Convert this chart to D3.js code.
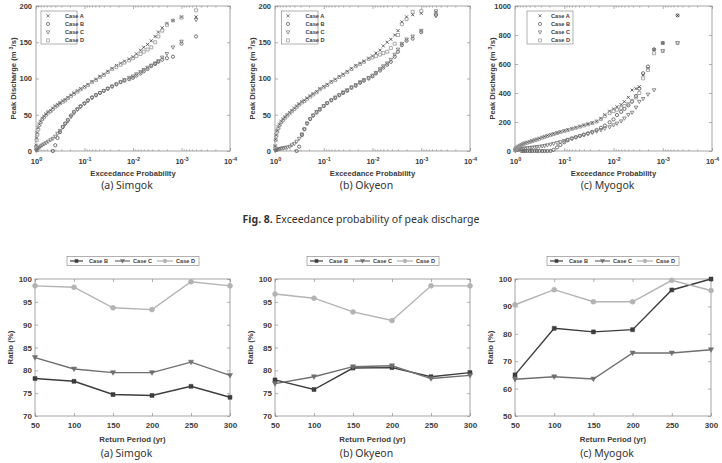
<!DOCTYPE html>
<html><head><meta charset="utf-8">
<script src="https://cdn.jsdelivr.net/npm/d3@7"></script>
<style>body{margin:0;background:#fff} svg{display:block}</style>
</head><body><svg id="c" width="722" height="463"></svg>
<script>
// ---------- DATA ----------
// exceedance probabilities (shared plotting positions)
const P = [0.99,0.97,0.94,0.9,0.85,0.8,0.74,0.68,0.62,0.56,0.5,0.45,0.4,0.36,0.32,0.28,0.25,0.22,0.19,0.165,0.14,0.12,0.1,0.085,0.07,0.058,0.048,0.04,0.033,0.027,0.022,0.018,0.015,0.012,0.01,0.0085,0.007,0.006,0.005,0.0042,0.0035,0.003,0.0025,0.002,0.0015,0.001,0.0005];
const caseNames = ["Case A","Case B","Case C","Case D"];
// Simgok peak discharge (m3/s); null = no plotted point
const simA = [8,18,25,32,37,41,45,48,51,54,56,59,62,64,66,69,71,74,77,80,83,86,89,92,96,99,103,106,110,114,118,121,124,127,130,134,139,143,147,152,158,164,170,176,180,185,185];
const simB = [null,null,null,null,null,null,null,null,null,null,null,0,8,18,26,33,38,43,49,54,58,62,66,70,74,77,80,83,86,89,92,95,97,99,101,104,107,110,113,117,120,123,126,128,130,148,158];
const simC = [0.5,1.5,2.5,4,5,6.5,8,9.5,11,13,15,17,20,24,28,33,37,41,47,52,57,61,65,69,73,77,80,83,86,89,92,95,98,101,103,106,109,112,115,118,121,124,129,134,143,151,181];
const simD = [6,15,23,30,36,40,44,47,50,53,55,58,61,63,66,68,70,73,76,79,82,85,88,91,95,98,102,105,109,113,116,119,122,125,128,131,134,137,140,143,150,158,166,174,180,184,194];
// Okyeon
const okyA = [7,16,22,28,33,37,41,44,47,50,53,56,59,62,65,68,70,73,76,79,82,86,89,92,96,99,103,106,110,114,118,121,124,128,131,135,139,145,150,154,160,166,178,185,188,190,192];
const okyB = [null,null,null,null,null,null,null,null,null,null,null,null,null,0,6,22,30,38,44,49,53,57,62,66,70,73,77,80,83,87,90,94,97,100,103,107,111,115,119,123,130,137,146,152,155,164,188];
const okyC = [0.5,1,1.5,2,2.5,3,3.5,4,4.5,5,6,8,10,13,17,23,30,38,44,49,54,58,62,66,70,74,77,81,84,88,91,95,98,101,104,108,113,117,121,126,133,140,148,154,158,166,186];
const okyD = [6,15,21,27,32,36,40,43,46,49,52,55,58,61,64,67,69,72,75,78,81,85,88,91,95,98,102,105,109,113,117,120,123,127,129,131,133,135,137,142,148,160,175,182,192,193,193];
// Myogok
const myoA = [8,15,20,26,32,38,44,50,55,60,65,70,76,81,87,94,100,106,113,119,126,133,140,147,155,162,170,178,186,195,205,225,250,275,290,305,320,340,370,420,430,443,525,570,700,745,935];
const myoB = [null,null,null,null,null,null,0,0,0,0,0,0,0,0,0,0,0,0,0,8,25,42,60,74,86,95,104,113,122,132,145,160,175,198,218,248,270,290,315,340,380,430,536,582,701,745,935];
const myoC = [2,4,6,8,10,12,14,16,18,20,22,24,26,28,30,33,36,40,45,50,56,62,70,78,86,94,102,110,118,126,135,145,155,165,178,190,205,225,250,265,300,340,360,390,420,690,745];
const myoD = [6,13,18,24,30,36,42,48,53,58,63,68,74,79,85,92,98,104,111,117,124,131,138,145,153,160,168,176,184,193,203,220,240,262,275,285,295,310,325,345,370,400,501,559,674,690,745];
const xLogTicks = [1,0.1,0.01,0.001,0.0001];
const simTicks = [0,50,100,150,200];
const myoTicks = [0,200,400,600,800,1000];

// Ratio of design discharge (%)
const returnPeriods = [50,100,150,200,250,300];
const ratioCases = ["Case B","Case C","Case D"];
const simRatioB = [78.2,77.6,74.7,74.5,76.5,74.1];
const simRatioC = [82.8,80.3,79.5,79.5,81.8,78.9];
const simRatioD = [98.5,98.2,93.7,93.3,99.4,98.5];
const okyRatioB = [77.9,75.8,80.5,80.6,78.6,79.5];
const okyRatioC = [77.1,78.6,80.8,81.0,78.2,78.9];
const okyRatioD = [96.7,95.8,92.8,90.9,98.5,98.5];
const myoRatioB = [65.0,82.0,80.7,81.5,96.0,100.0];
const myoRatioC = [63.4,64.3,63.5,73.0,73.0,74.2];
const myoRatioD = [90.6,96.1,91.7,91.7,99.5,95.8];
const ratioTicks1 = [70,75,80,85,90,95,100];
const ratioTicks2 = [50,60,70,80,90,100];

// ---------- DRAWING ----------
const FONT = "'Liberation Sans', Arial, Helvetica, sans-serif";
const CAPFONT = "'Noto Sans', 'Open Sans', sans-serif";
const AX = "#8f8f8f", TXT = "#3c3c3c";
const svg = d3.select("#c");

function mpath(type, s){
  if(type==="x") return `M${-s},${-s}L${s},${s}M${-s},${s}L${s},${-s}`;
  if(type==="o") return `M${s},0A${s},${s} 0 1,1 ${-s},0A${s},${s} 0 1,1 ${s},0Z`;
  if(type==="v") return `M${-s},${-s*0.75}L${s},${-s*0.75}L0,${s*1.05}Z`;
  return `M${-s},${-s}H${s}V${s}H${-s}Z`;
}
function styleAxis(g, fs){
  g.attr("font-family",FONT).attr("font-size",fs).attr("font-weight","bold");
  g.select(".domain").remove();
  g.selectAll(".tick line").attr("stroke",AX).attr("stroke-width",0.7);
  g.selectAll(".tick text").attr("fill",TXT);
}
function frame(l,r,t,b){
  svg.append("rect").attr("x",l).attr("y",t).attr("width",r-l).attr("height",b-t)
    .attr("fill","none").attr("stroke",AX).attr("stroke-width",0.8);
}

const scatterStyle = [
  {type:"x", color:"#3a3a3a", s:1.5},
  {type:"o", color:"#505050", s:1.6},
  {type:"v", color:"#707070", s:1.8},
  {type:"s", color:"#959595", s:1.5}
];

function scatterPanel(cfg){
  const {left,right,top,bottom,yMax,yTicks,series,leg,caption} = cfg;
  const x = d3.scaleLog().domain([1,1e-4]).range([left,right]);
  const y = d3.scaleLinear().domain([0,yMax]).range([bottom,top]);
  const minors = [];
  [1,0.1,0.01,0.001].forEach(d=>{ for(let k=2;k<=9;k++) minors.push(d*k/10); });
  [[d3.axisBottom,bottom],[d3.axisTop,top]].forEach(([ax,pos])=>{
    const g = svg.append("g").attr("transform",`translate(0,${pos})`)
      .call(ax(x).tickValues(minors).tickSize(-1.6).tickFormat(""));
    styleAxis(g,7.5);
  });
  const gx = svg.append("g").attr("transform",`translate(0,${bottom})`)
    .call(d3.axisBottom(x).tickValues(xLogTicks).tickSize(-3).tickPadding(8).tickFormat(""));
  styleAxis(gx,7.5);
  gx.selectAll(".tick text").each(function(d){
    const t = d3.select(this); t.text("10");
    t.append("tspan").attr("dy",-3.2).attr("font-size",5.5).text(String(Math.round(Math.log10(d))));
  });
  const gt = svg.append("g").attr("transform",`translate(0,${top})`)
    .call(d3.axisTop(x).tickValues(xLogTicks).tickSize(-3).tickFormat(""));
  styleAxis(gt,7.5);
  const gy = svg.append("g").attr("transform",`translate(${left},0)`)
    .call(d3.axisLeft(y).tickValues(yTicks).tickSize(-3).tickPadding(4).tickFormat(d3.format("d")));
  styleAxis(gy,7.5);
  const gr = svg.append("g").attr("transform",`translate(${right},0)`)
    .call(d3.axisRight(y).tickValues(yTicks).tickSize(-3).tickFormat(""));
  styleAxis(gr,7.5);
  frame(left,right,top,bottom);
  const clip = "clip"+left;
  svg.append("clipPath").attr("id",clip).append("rect")
    .attr("x",left-3).attr("y",top-3).attr("width",right-left+6).attr("height",bottom-top+6);
  const pg = svg.append("g").attr("clip-path",`url(#${clip})`);
  series.forEach((vals,si)=>{
    const st = scatterStyle[si];
    const pts = vals.map((v,i)=>[P[i],v]).filter(d=>d[1]!==null);
    pg.append("g").selectAll("path").data(pts).join("path")
      .attr("transform",d=>`translate(${x(d[0])},${y(d[1])})`)
      .attr("d",mpath(st.type,st.s)).attr("fill","none")
      .attr("stroke",st.color).attr("stroke-width",0.8);
  });
  svg.append("rect").attr("x",left+leg.x0).attr("y",11).attr("width",leg.x1-leg.x0).attr("height",33)
    .attr("fill","#fff").attr("stroke",AX).attr("stroke-width",0.7);
  caseNames.forEach((n,i)=>{
    const yy = 15.8 + i*8.2; const st = scatterStyle[i];
    svg.append("path").attr("transform",`translate(${left+leg.m},${yy})`)
      .attr("d",mpath(st.type,st.s)).attr("fill","none").attr("stroke",st.color).attr("stroke-width",0.7);
    svg.append("text").attr("x",left+leg.t).attr("y",yy+2).attr("font-family",FONT)
      .attr("font-size",5.6).attr("font-weight","bold").attr("fill",TXT).text(n);
  });
  svg.append("text").attr("x",(left+right)/2).attr("y",176).attr("text-anchor","middle")
    .attr("font-family",FONT).attr("font-size",7.6).attr("font-weight","bold").attr("fill",TXT)
    .text("Exceedance Probability");
  const yl = svg.append("text").attr("transform",`translate(${left-20},${(top+bottom)/2}) rotate(-90)`)
    .attr("text-anchor","middle").attr("font-family",FONT).attr("font-size",7.6)
    .attr("font-weight","bold").attr("fill",TXT);
  yl.append("tspan").text("Peak Discharge (m ");
  yl.append("tspan").attr("dy",-3).attr("font-size",5.5).text("3");
  yl.append("tspan").attr("dy",3).text("/s)");
  svg.append("text").attr("x",(left+right)/2-6).attr("y",189).attr("text-anchor","middle")
    .attr("font-family",CAPFONT).attr("font-size",10.5).attr("fill","#333").text(caption);
}

scatterPanel({left:36,right:230,top:6,bottom:151,yMax:200,yTicks:simTicks,
  series:[simA,simB,simC,simD],leg:{x0:5,x1:41,m:12,t:29},caption:"(a) Simgok"});
scatterPanel({left:275,right:470,top:6,bottom:151,yMax:200,yTicks:simTicks,
  series:[okyA,okyB,okyC,okyD],leg:{x0:6.5,x1:43,m:13,t:30.5},caption:"(b) Okyeon"});
scatterPanel({left:515,right:712,top:6,bottom:151,yMax:1000,yTicks:myoTicks,
  series:[myoA,myoB,myoC,myoD],leg:{x0:12,x1:58,m:25,t:36},caption:"(c) Myogok"});

const fc = svg.append("text").attr("x",361).attr("y",223).attr("text-anchor","middle")
  .attr("font-family",CAPFONT).attr("font-size",10.5).attr("fill","#333");
fc.append("tspan").attr("font-weight","bold").text("Fig. 8.");
fc.append("tspan").text(" Exceedance probability of peak discharge");

// ---------- line panels ----------
const lineStyle = [
  {type:"s", color:"#3d3d3d", s:2},
  {type:"v", color:"#6f6f6f", s:2.6},
  {type:"o", color:"#b3b3b3", s:2.5}
];
function linePanel(cfg){
  const {left,right,top,bottom,yDomain,yTicks,series,caption} = cfg;
  const x = d3.scaleLinear().domain([50,300]).range([left,right]);
  const y = d3.scaleLinear().domain(yDomain).range([bottom,top]);
  const gx = svg.append("g").attr("transform",`translate(0,${bottom})`)
    .call(d3.axisBottom(x).tickValues(returnPeriods).tickSize(-3).tickPadding(6.5));
  styleAxis(gx,8);
  const gt = svg.append("g").attr("transform",`translate(0,${top})`)
    .call(d3.axisTop(x).tickValues(returnPeriods).tickSize(-3).tickFormat(""));
  styleAxis(gt,8);
  const gy = svg.append("g").attr("transform",`translate(${left},0)`)
    .call(d3.axisLeft(y).tickValues(yTicks).tickSize(-3).tickPadding(3));
  styleAxis(gy,8);
  const gr = svg.append("g").attr("transform",`translate(${right},0)`)
    .call(d3.axisRight(y).tickValues(yTicks).tickSize(-3).tickFormat(""));
  styleAxis(gr,8);
  frame(left,right,top,bottom);
  const line = d3.line().x((d,i)=>x(returnPeriods[i])).y(d=>y(d));
  series.forEach((vals,si)=>{
    const st = lineStyle[si];
    svg.append("path").datum(vals).attr("d",line).attr("fill","none")
      .attr("stroke",st.color).attr("stroke-width",1.4);
    svg.append("g").selectAll("path").data(vals).join("path")
      .attr("transform",(d,i)=>`translate(${x(returnPeriods[i])},${y(d)})`)
      .attr("d",mpath(st.type,st.s)).attr("fill",st.color).attr("stroke",st.color).attr("stroke-width",0.5);
  });
  svg.append("rect").attr("x",left+32).attr("y",256.5).attr("width",132).attr("height",9)
    .attr("fill","#fff").attr("stroke",AX).attr("stroke-width",0.7);
  const lx = [[35,48,54],[80,95,98],[122,138,141]];
  ratioCases.forEach((n,i)=>{
    const st = lineStyle[i]; const [a,b,t] = lx[i]; const yy = 261;
    svg.append("line").attr("x1",left+a).attr("x2",left+b).attr("y1",yy).attr("y2",yy)
      .attr("stroke",st.color).attr("stroke-width",1.2);
    svg.append("path").attr("transform",`translate(${left+(a+b)/2},${yy})`)
      .attr("d",mpath(st.type,st.s*0.8)).attr("fill",st.color).attr("stroke",st.color).attr("stroke-width",0.4);
    svg.append("text").attr("x",left+t).attr("y",yy+2).attr("font-family",FONT)
      .attr("font-size",5.6).attr("font-weight","bold").attr("fill",TXT).text(n);
  });
  svg.append("text").attr("x",(left+right)/2).attr("y",442).attr("text-anchor","middle")
    .attr("font-family",FONT).attr("font-size",7.8).attr("font-weight","bold").attr("fill",TXT)
    .text("Return Period (yr)");
  svg.append("text").attr("transform",`translate(${left-22},${(top+bottom)/2}) rotate(-90)`)
    .attr("text-anchor","middle").attr("font-family",FONT).attr("font-size",7.8)
    .attr("font-weight","bold").attr("fill",TXT).text("Ratio (%)");
  svg.append("text").attr("x",(left+right)/2-6).attr("y",457).attr("text-anchor","middle")
    .attr("font-family",CAPFONT).attr("font-size",10.5).attr("fill","#333").text(caption);
}
linePanel({left:35,right:230,top:279,bottom:416,yDomain:[70,100],yTicks:ratioTicks1,
  series:[simRatioB,simRatioC,simRatioD],caption:"(a) Simgok"});
linePanel({left:275,right:470,top:279,bottom:416,yDomain:[70,100],yTicks:ratioTicks1,
  series:[okyRatioB,okyRatioC,okyRatioD],caption:"(b) Okyeon"});
linePanel({left:515,right:711,top:279,bottom:416,yDomain:[50,100],yTicks:ratioTicks2,
  series:[myoRatioB,myoRatioC,myoRatioD],caption:"(c) Myogok"});
</script></body></html>
